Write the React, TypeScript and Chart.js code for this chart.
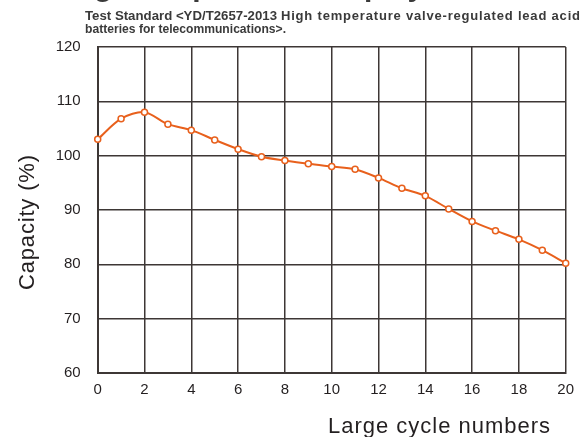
import React, { useEffect, useRef } from 'react';
import { Chart, registerables } from 'chart.js';

Chart.register(...registerables);

// ---- data ----
const cycles = [0, 1, 2, 3, 4, 5, 6, 7, 8, 9, 10, 11, 12, 13, 14, 15, 16, 17, 18, 19, 20];
const capacity = [103.0, 106.8, 108.0, 105.8, 104.7, 102.9, 101.2, 99.8, 99.1, 98.5, 98.0, 97.5, 95.9, 94.0, 92.6, 90.2, 87.9, 86.2, 84.6, 82.6, 80.2];
const yMin = 60;
const yMax = 120;
const yStep = 10;
const xMin = 0;
const xMax = 20;
const xStep = 2;

const titleText = 'High temperature display';
const subtitleA = 'Test Standard <YD/T2657-2013';
const subtitleB = 'High temperature valve-regulated lead acid';
const subtitleC = 'batteries for telecommunications>.';
const yTitle = 'Capacity (%)';
const xTitle = 'Large cycle numbers';

const ORANGE = '#e8601c';
const INK = '#231f20';
const GRID = '#3d3735';

function fitText(ctx: CanvasRenderingContext2D, text: string, x: number, y: number, target: number) {
  const w = ctx.measureText(text).width;
  if (w > target) {
    ctx.fillText(text, x, y, target);
  } else {
    const ls = (target - w) / Math.max(1, text.length - 1);
    (ctx as any).letterSpacing = ls + 'px';
    ctx.fillText(text, x, y);
    (ctx as any).letterSpacing = '0px';
  }
}

const textPlugin = {
  id: 'textPlugin',
  afterDraw(chart: any) {
    const ctx: CanvasRenderingContext2D = chart.ctx;
    ctx.save();
    // clipped main title
    ctx.fillStyle = '#3a3a3a';
    ctx.font = 'bold 30px Arial, "Liberation Sans", sans-serif';
    ctx.textAlign = 'left';
    ctx.textBaseline = 'alphabetic';
    ctx.fillText(titleText, 64, -4);

    // subtitle
    ctx.fillStyle = '#3a3a3a';
    ctx.font = 'bold 13.5px Arial, "Liberation Sans", sans-serif';
    fitText(ctx, subtitleA, 85, 20, 192);
    ctx.font = 'bold 13px Arial, "Liberation Sans", sans-serif';
    fitText(ctx, subtitleB, 281, 20, 299);
    fitText(ctx, subtitleC, 85, 32.5, 201);

    // axis titles
    ctx.fillStyle = INK;
    ctx.font = '22px Arial, "Liberation Sans", sans-serif';
    fitText(ctx, xTitle, 328, 433, 222);

    ctx.translate(33.5, 290);
    ctx.rotate(-Math.PI / 2);
    fitText(ctx, yTitle, 0, 0, 135);
    ctx.restore();
  },
};

export default function App() {
  const ref = useRef<HTMLCanvasElement | null>(null);

  useEffect(() => {
    if (!ref.current) return;
    const chart = new Chart(ref.current, {
      type: 'line',
      data: {
        datasets: [
          {
            data: cycles.map((c, i) => ({ x: c, y: capacity[i] })),
            borderColor: ORANGE,
            borderWidth: 2,
            pointRadius: 3,
            pointBorderWidth: 1.5,
            pointBackgroundColor: '#ffffff',
            pointBorderColor: ORANGE,
            tension: 0.3,
            clip: false as any,
          },
        ],
      },
      options: {
        responsive: false,
        animation: false,
        layout: { padding: { top: 47, right: 20.3, bottom: 0, left: 0 } },
        plugins: { legend: { display: false }, tooltip: { enabled: false }, title: { display: false } },
        scales: {
          x: {
            type: 'linear',
            min: xMin,
            max: xMax,
            ticks: {
              stepSize: xStep,
              padding: 8,
              color: INK,
              font: { family: 'Arial, "Liberation Sans", sans-serif', size: 15 },
              maxRotation: 0,
            },
            grid: { color: GRID, lineWidth: 1.5, drawTicks: false },
            border: { color: GRID, width: 2 },
            afterFit: (s: any) => {
              s.height = 64;
            },
          },
          y: {
            min: yMin,
            max: yMax,
            ticks: {
              stepSize: yStep,
              padding: 17,
              color: INK,
              font: { family: 'Arial, "Liberation Sans", sans-serif', size: 15 },
            },
            grid: { color: GRID, lineWidth: 1.5, drawTicks: false },
            border: { color: GRID, width: 2 },
            afterFit: (s: any) => {
              s.width = 97.7;
            },
          },
        },
      },
      plugins: [textPlugin],
    });
    return () => chart.destroy();
  }, []);

  return (
    <div style={{ position: 'absolute', left: 0, top: 0, width: 586, height: 437, background: '#fff' }}>
      <canvas ref={ref} width={586} height={437} style={{ width: 586, height: 437, display: 'block' }} />
    </div>
  );
}
